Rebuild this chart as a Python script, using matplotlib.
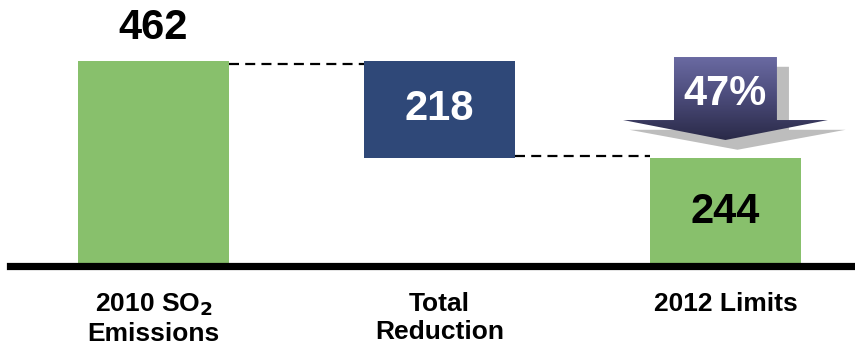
import matplotlib
matplotlib.use("Agg")
import matplotlib.pyplot as plt
import numpy as np
from matplotlib.patches import Polygon
from matplotlib.colors import LinearSegmentedColormap

# Waterfall data (thousand tons SO2)
categories = ["2010 SO$_\\mathbf{2}$\nEmissions", "Total\nReduction", "2012 Limits"]
emissions_2010 = 462
total_reduction = 218
limits_2012 = 244
reduction_pct = "47%"

green = "#88C06C"
navy = "#2F4878"

fig = plt.figure(figsize=(8.55, 3.49), dpi=100)
ax = fig.add_axes([0, 0, 1, 1])
ax.set_xlim(-0.537, 2.453)
ax.set_ylim(-187, 599.5)
ax.axis("off")

width = 0.528
x = np.arange(3)
bottoms = [0, limits_2012, 0]
heights = [emissions_2010, total_reduction, limits_2012]
colors = [green, navy, green]
ax.bar(x, heights, width=width, bottom=bottoms, color=colors, zorder=2)

# connector lines between the bars
dash = dict(color="black", lw=1.6, ls=(0, (4.5, 2.8)), zorder=1)
ax.plot([x[0] + width / 2, x[1] - width / 2], [emissions_2010 - 6, emissions_2010 - 6], **dash)
ax.plot([x[1] + width / 2, x[2] - width / 2], [limits_2012 + 3, limits_2012 + 3], **dash)

# baseline
ax.axhline(0, xmin=10 / 855, xmax=1, color="black", lw=5.2, zorder=3)

fnum = dict(family=["Liberation Sans", "DejaVu Sans"], weight="bold", fontsize=30,
            ha="center", va="center")
ax.text(x[0], emissions_2010 + 74, str(emissions_2010), color="black", **fnum)
ax.text(x[1], limits_2012 + total_reduction / 2, str(total_reduction), color="white", **fnum)
ax.text(x[2], limits_2012 / 2, str(limits_2012), color="black", **fnum)

# category labels
for xi, lab in zip(x, categories):
    ax.text(xi, -58, lab, family=["Liberation Sans", "DejaVu Sans"], weight="bold",
            fontsize=19, ha="center", va="top", linespacing=1.22)

# down arrow showing the percent reduction
cx = x[2]
hw_shaft, hw_head = 0.18, 0.358
y_top, y_neck, y_tip = 471, 329, 284

def arrow_pts(dx=0.0, dy=0.0, grow=0.0):
    return np.array([
        [cx - hw_shaft + dx, y_top + dy],
        [cx + hw_shaft + dx, y_top + dy],
        [cx + hw_shaft + dx, y_neck + dy],
        [cx + hw_head + dx + grow, y_neck + dy],
        [cx + dx, y_tip + dy],
        [cx - hw_head + dx - grow, y_neck + dy],
        [cx - hw_shaft + dx, y_neck + dy],
    ])

shadow = Polygon(arrow_pts(0.042, -22, 0.02), closed=True, facecolor="#BDBDBD",
                 edgecolor="none", zorder=4)
ax.add_patch(shadow)

arrow = Polygon(arrow_pts(), closed=True, facecolor="none", edgecolor="none", zorder=5)
ax.add_patch(arrow)
cmap = LinearSegmentedColormap.from_list("arr", ["#2A2A48", "#4A4A78", "#6A6AA2"])
grad = np.linspace(0, 1, 256).reshape(-1, 1)
img = ax.imshow(grad, cmap=cmap, origin="lower", aspect="auto",
                extent=[cx - hw_head, cx + hw_head, y_tip, y_top], zorder=5)
img.set_clip_path(arrow)
ax.set_xlim(-0.537, 2.453)
ax.set_ylim(-187, 599.5)

ax.text(cx, 388, reduction_pct, color="white", zorder=6, **fnum)

fig.savefig("out.png", dpi=100)
